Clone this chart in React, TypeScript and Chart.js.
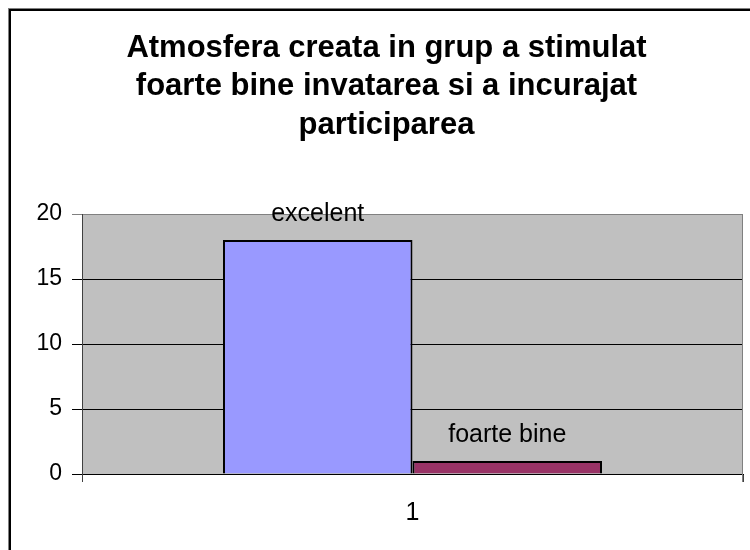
import React, { useEffect, useRef } from "react";
import { Chart, registerables } from "chart.js";

Chart.register(...registerables);

const titleLines = [
  "Atmosfera creata in grup a stimulat",
  "foarte bine invatarea si a incurajat",
  "participarea",
];
const categories = ["1"];
const seriesNames = ["excelent", "foarte bine"];
const excelentValues = [18];
const foarteBineValues = [1];
const seriesColors = ["#9999FF", "#993366"];
const yMin = 0;
const yMax = 20;
const yStep = 5;

const FONT = "'Liberation Sans', Arial, sans-serif";

const framePlugin = {
  id: "frame",
  beforeDraw(chart: any) {
    const { ctx, chartArea } = chart;
    ctx.save();
    ctx.fillStyle = "#C0C0C0";
    ctx.fillRect(
      chartArea.left,
      chartArea.top,
      chartArea.right - chartArea.left,
      chartArea.bottom - chartArea.top
    );
    // outer frame (left & top visible)
    ctx.fillStyle = "#808080";
    ctx.fillRect(8, 8, 1, 542);
    ctx.fillRect(8, 8, 742, 1);
    ctx.fillStyle = "#000";
    ctx.fillRect(9, 9, 2, 541);
    ctx.fillRect(9, 9, 741, 2);
    ctx.restore();
  },
  afterDraw(chart: any) {
    const { ctx, chartArea } = chart;
    ctx.save();
    ctx.strokeStyle = "#808080";
    ctx.lineWidth = 1;
    ctx.beginPath();
    const x = Math.round(chartArea.right) - 0.5;
    ctx.moveTo(x, chartArea.top);
    ctx.lineTo(x, chartArea.bottom + 8);
    ctx.stroke();
    ctx.restore();
  },
};

const barLabelPlugin = {
  id: "barLabels",
  afterDatasetsDraw(chart: any) {
    const { ctx } = chart;
    ctx.save();
    ctx.font = `25px ${FONT}`;
    ctx.fillStyle = "#000";
    ctx.textAlign = "center";
    ctx.textBaseline = "alphabetic";
    chart.data.datasets.forEach((ds: any, i: number) => {
      const meta = chart.getDatasetMeta(i);
      meta.data.forEach((bar: any) => {
        ctx.fillText(ds.label, bar.x, bar.y - 19);
      });
    });
    ctx.restore();
  },
};

export default function App() {
  const ref = useRef<HTMLCanvasElement>(null);

  useEffect(() => {
    document.body.style.margin = "0";
    document.body.style.overflow = "hidden";
    const canvas = ref.current;
    if (!canvas) return;
    const chart = new Chart(canvas, {
      type: "bar",
      data: {
        labels: categories,
        datasets: [
          {
            label: seriesNames[0],
            data: excelentValues,
            backgroundColor: seriesColors[0],
            borderColor: "#000",
            borderWidth: 2,
          },
          {
            label: seriesNames[1],
            data: foarteBineValues,
            backgroundColor: seriesColors[1],
            borderColor: "#000",
            borderWidth: 2,
          },
        ],
      },
      options: {
        responsive: false,
        animation: false,
        devicePixelRatio: 1,
        layout: { padding: { left: 30, right: 7, top: 0, bottom: 0 } },
        datasets: {
          bar: { categoryPercentage: 0.5734, barPercentage: 1 },
        },
        plugins: {
          legend: { display: false },
          tooltip: { enabled: false },
          title: {
            display: true,
            text: titleLines,
            color: "#000",
            font: { family: FONT, size: 31, weight: "bold", lineHeight: 1.24 },
            padding: { top: 29, bottom: 69.7 },
          },
        },
        scales: {
          x: {
            afterFit: (scale: any) => {
              scale.height = 76;
            },
            grid: {
              offset: true,
              drawOnChartArea: false,
              drawTicks: true,
              tickLength: 8,
              color: "#404040",
            },
            border: { display: true, color: "#000", width: 1 },
            ticks: {
              color: "#000",
              padding: 16,
              font: { family: FONT, size: 25 },
            },
          },
          y: {
            min: yMin,
            max: yMax,
            afterFit: (scale: any) => {
              scale.width = 52;
            },
            ticks: {
              stepSize: yStep,
              color: "#000",
              padding: 10,
              font: { family: FONT, size: 23 },
            },
            grid: {
              tickLength: 10,
              color: (c: any) =>
                c.tick && c.tick.value === yMax ? "#808080" : "#000",
            },
            border: { display: true, color: "#404040", width: 1 },
          },
        },
      },
      plugins: [framePlugin, barLabelPlugin],
    });
    return () => chart.destroy();
  }, []);

  return (
    <div style={{ width: 750, height: 550 }}>
      <canvas ref={ref} width={750} height={550} style={{ display: "block" }} />
    </div>
  );
}
